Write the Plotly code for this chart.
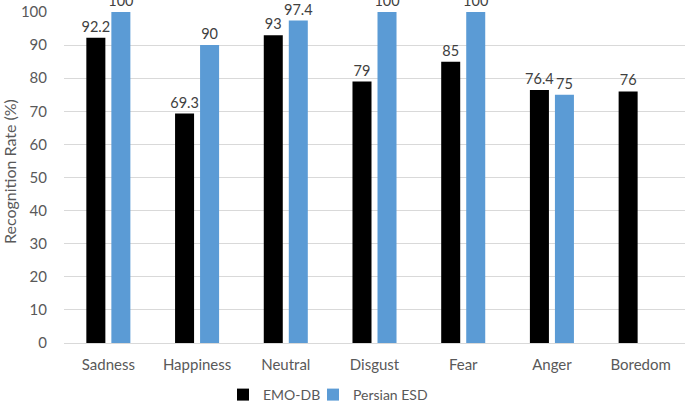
import plotly.graph_objects as go

categories = ["Sadness", "Happiness", "Neutral", "Disgust", "Fear", "Anger", "Boredom"]
emo_db = [92.2, 69.3, 93, 79, 85, 76.4, 76]
persian_esd = [100, 90, 97.4, 100, 100, 75, None]
y_ticks = list(range(0, 101, 10))

font_family = "Lato, 'Open Sans', sans-serif"
text_color = "#404040"
tick_color = "#595959"

FIG_W, FIG_H = 685, 409
M_L, M_R, M_T, M_B = 64, 0, 12, 66
plot_w = FIG_W - M_L - M_R
plot_h = FIG_H - M_T - M_B

def labels(vals):
    return ["" if v is None else (str(v)) for v in vals]

fig = go.Figure()
fig.add_trace(go.Bar(
    name="EMO-DB", x=categories, y=emo_db, legend="legend",
    marker=dict(color="#000000", line=dict(width=0)),
    text=labels(emo_db), textposition="outside", constraintext="none",
    textfont=dict(size=14.5, color=text_color, family=font_family),
    cliponaxis=False,
))
fig.add_trace(go.Bar(
    name="Persian ESD", x=categories, y=persian_esd, legend="legend2",
    marker=dict(color="#5B9BD5", line=dict(width=0)),
    text=labels(persian_esd), textposition="outside", constraintext="none",
    textfont=dict(size=14.5, color=text_color, family=font_family),
    cliponaxis=False,
))

legend_y = -(395 - (M_T + plot_h)) / plot_h
legend_font = dict(size=14, color=tick_color, family=font_family)

fig.update_layout(
    width=FIG_W, height=FIG_H,
    margin=dict(l=M_L, r=M_R, t=M_T, b=M_B, autoexpand=False),
    paper_bgcolor="white", plot_bgcolor="white",
    barmode="group", bargap=0.436, bargroupgap=0.24,
    font=dict(family=font_family, color=tick_color, size=14),
    showlegend=True,
    legend=dict(orientation="h", xref="paper", x=(223 - M_L) / plot_w, xanchor="left",
                yref="paper", y=legend_y, yanchor="middle", font=legend_font,
                bgcolor="rgba(0,0,0,0)"),
    legend2=dict(orientation="h", xref="paper", x=(313 - M_L) / plot_w, xanchor="left",
                 yref="paper", y=legend_y, yanchor="middle", font=legend_font,
                 bgcolor="rgba(0,0,0,0)"),
    annotations=[dict(text="Recognition Rate (%)", textangle=-90,
                      xref="paper", x=-(M_L - 9) / plot_w, xanchor="center",
                      yref="paper", y=(M_T + plot_h - 172) / plot_h, yanchor="middle",
                      showarrow=False,
                      font=dict(size=16, color=tick_color, family=font_family))],
)
fig.update_xaxes(showgrid=False, showline=True, linecolor="#D9D9D9", linewidth=1,
                 ticks="", tickfont=dict(size=15, color=tick_color), automargin=False,
                 ticklabelstandoff=8, fixedrange=True)
fig.update_yaxes(range=[0, 100], tickvals=y_ticks, showgrid=True, gridcolor="#D9D9D9",
                 gridwidth=1, zeroline=False, showline=False, ticks="", automargin=False,
                 ticklabelstandoff=16, fixedrange=True,
                 tickfont=dict(size=15, color=tick_color))

fig.write_html("out.html", config={"displayModeBar": False},
               post_script="document.body.style.margin='0';")
